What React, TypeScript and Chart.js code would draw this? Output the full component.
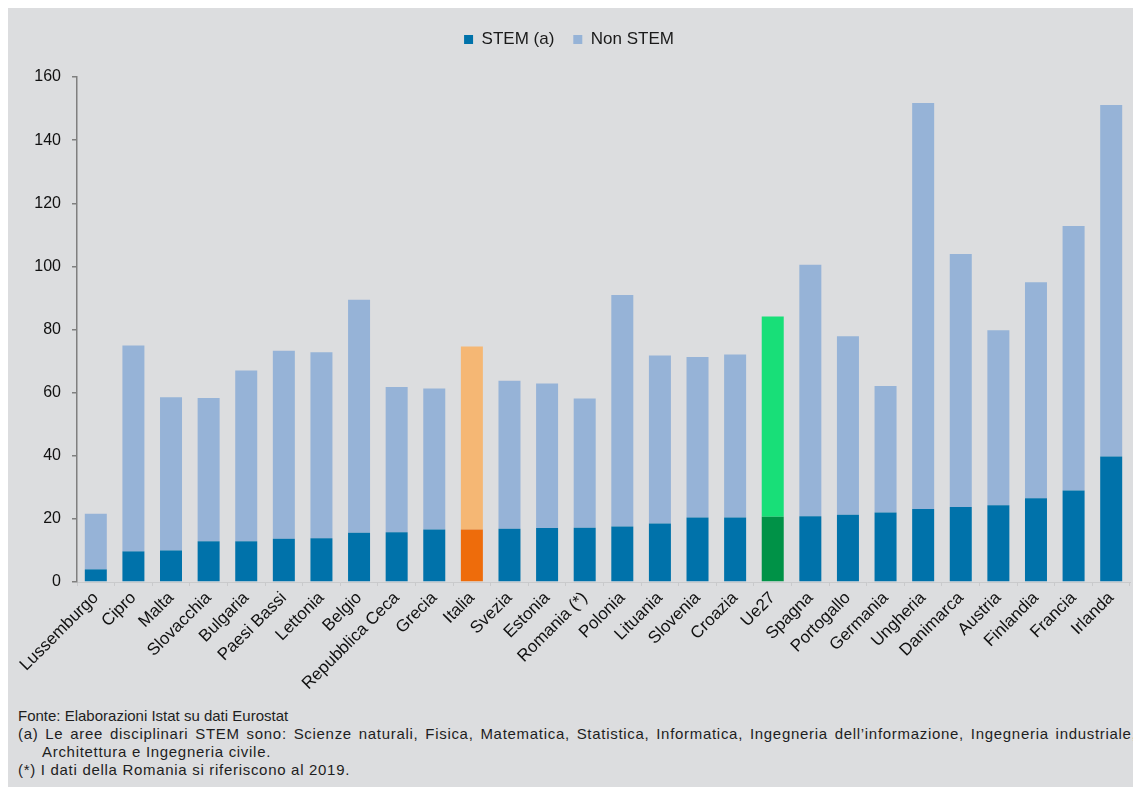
import React, { useEffect, useRef } from "react";
import { Chart, registerables } from "chart.js";

Chart.register(...registerables);

const categories = [
  "Lussemburgo", "Cipro", "Malta", "Slovacchia", "Bulgaria", "Paesi Bassi", "Lettonia",
  "Belgio", "Repubblica Ceca", "Grecia", "Italia", "Svezia", "Estonia", "Romania (*)",
  "Polonia", "Lituania", "Slovenia", "Croazia", "Ue27", "Spagna", "Portogallo",
  "Germania", "Ungheria", "Danimarca", "Austria", "Finlandia", "Francia", "Irlanda",
];

const stemValues = [
  4.0, 9.7, 10.0, 12.9, 12.9, 13.7, 13.9, 15.6, 15.8, 16.6, 16.6, 16.9, 17.1, 17.2,
  17.6, 18.5, 20.4, 20.4, 20.7, 20.8, 21.3, 22.0, 23.1, 23.8, 24.3, 26.5, 29.0, 39.8,
];

const nonStemValues = [
  17.6, 65.2, 48.5, 45.4, 54.1, 59.6, 58.9, 73.8, 46.0, 44.7, 58.0, 46.9, 45.8, 40.9,
  73.3, 53.3, 50.9, 51.7, 63.4, 79.7, 56.6, 40.1, 128.7, 80.1, 55.5, 68.5, 83.8, 111.3,
];

const seriesNames = ["STEM (a)", "Non STEM"];
const yMin = 0;
const yMax = 160;
const yStep = 20;

const footnotes = [
  "Fonte: Elaborazioni Istat su dati Eurostat",
  "(a) Le aree disciplinari STEM sono: Scienze naturali, Fisica, Matematica, Statistica, Informatica, Ingegneria dell\u2019informazione, Ingegneria industriale,",
  "Architettura e Ingegneria civile.",
  "(*) I dati della Romania si riferiscono al 2019.",
];

const FONT = "'Liberation Sans', Arial, Helvetica, sans-serif";

const stemColor = (c: string) =>
  c === "Italia" ? "#ee6c0b" : c === "Ue27" ? "#009247" : "#0072aa";
const nonStemColor = (c: string) =>
  c === "Italia" ? "#f5b774" : c === "Ue27" ? "#18df78" : "#96b3d7";

const legendSpacer = {
  id: "legendSpacer",
  beforeInit(chart: any) {
    const legend = chart.legend;
    if (!legend) return;
    const orig = legend.fit;
    legend.fit = function fit() {
      orig.call(legend);
      legend.height += 19;
    };
  },
};

export default function App() {
  const canvasRef = useRef<HTMLCanvasElement | null>(null);

  useEffect(() => {
    if (!canvasRef.current) return;
    Chart.defaults.font.family = FONT;
    const chart = new Chart(canvasRef.current, {
      type: "bar",
      data: {
        labels: categories,
        datasets: [
          {
            label: seriesNames[0],
            data: stemValues,
            backgroundColor: categories.map(stemColor),
            borderWidth: 0,
            barPercentage: 0.585,
            categoryPercentage: 1,
          },
          {
            label: seriesNames[1],
            data: nonStemValues,
            backgroundColor: categories.map(nonStemColor),
            borderWidth: 0,
            barPercentage: 0.585,
            categoryPercentage: 1,
          },
        ],
      },
      plugins: [legendSpacer],
      options: {
        animation: false,
        responsive: true,
        maintainAspectRatio: false,
        layout: { padding: { top: 4, right: 3, left: 0, bottom: 0 } },
        plugins: {
          tooltip: { enabled: false },
          legend: {
            position: "top",
            align: "center",
            labels: {
              boxWidth: 9,
              boxHeight: 9,
              padding: 19,
              color: "#1a1a1a",
              font: { size: 17, family: FONT },
            },
          },
        },
        scales: {
          x: {
            stacked: true,
            afterFit: (scale: any) => {
              scale.height = 120;
            },
            border: { display: true, color: "#c9cacc", width: 1 },
            grid: {
              offset: true,
              drawOnChartArea: false,
              drawTicks: true,
              tickLength: 4,
              color: "#c9cacc",
            },
            ticks: {
              autoSkip: false,
              maxRotation: 45,
              minRotation: 45,
              color: "#111111",
              padding: 2,
              font: { size: 17, family: FONT },
            },
          },
          y: {
            stacked: true,
            min: yMin,
            max: yMax,
            afterFit: (scale: any) => {
              scale.width = 69;
            },
            border: { display: true, color: "#7f7f7f", width: 1.5 },
            grid: {
              drawOnChartArea: false,
              drawTicks: true,
              tickLength: 5,
              color: "#7f7f7f",
              lineWidth: 1.5,
            },
            ticks: {
              stepSize: yStep,
              padding: 11,
              color: "#111111",
              font: { size: 16, family: FONT },
            },
          },
        },
      },
    });
    return () => chart.destroy();
  }, []);

  return (
    <div
      style={{
        position: "fixed",
        left: 8,
        top: 8,
        right: 0,
        bottom: 0,
        background: "#dcdddf",
        overflow: "hidden",
      }}
    >
      <div style={{ position: "absolute", left: 0, top: 0, width: 1125, height: 694 }}>
        <canvas ref={canvasRef} />
      </div>
      <div
        style={{
          position: "absolute",
          left: 10,
          top: 699,
          fontFamily: FONT,
          fontSize: 15,
          lineHeight: "18px",
          color: "#1e1e1e",
          whiteSpace: "nowrap",
        }}
      >
        <div>{footnotes[0]}</div>
        <div style={{ letterSpacing: "0.7px", wordSpacing: "2px" }}>{footnotes[1]}</div>
        <div style={{ paddingLeft: 24, letterSpacing: "0.7px" }}>{footnotes[2]}</div>
        <div style={{ letterSpacing: "0.7px" }}>{footnotes[3]}</div>
      </div>
    </div>
  );
}
